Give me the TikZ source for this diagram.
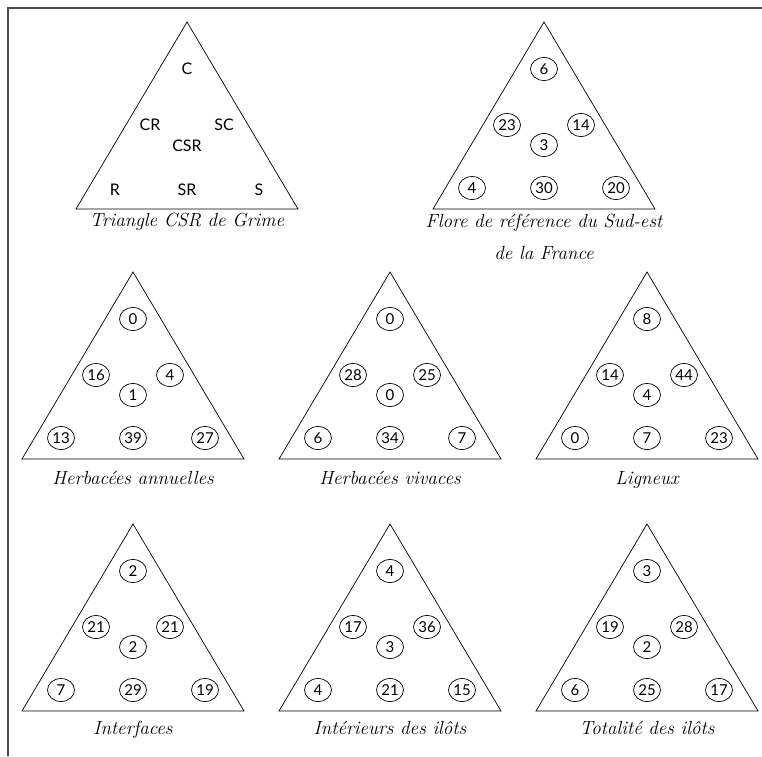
\documentclass[tikz,border=0pt]{standalone}
\usepackage{fontspec}
\newfontfamily\gillfont{Lato}
\usetikzlibrary{shapes.geometric}

\tikzset{
  frame/.style={draw=black!70, line width=1.5pt},
  tri/.style={draw, line width=0.7pt, line join=miter},
  val/.style={ellipse, draw, line width=0.7pt, minimum width=27pt, minimum height=23pt, inner sep=0pt, font=\gillfont\fontsize{15}{15}\selectfont},
  lbl/.style={inner sep=0pt, font=\gillfont\fontsize{16}{16}\selectfont},
  caption/.style={anchor=base, inner sep=0pt, align=center, font=\itshape\fontsize{19}{32}\selectfont}
}

\begin{document}
\begin{tikzpicture}[x=1pt, y=-1pt]
  \useasboundingbox (0,0) rectangle (762,756);

  % Frame, open on the right and at the bottom
  \coordinate (frameTR) at (762,8);
  \coordinate (frameTL) at (8,8);
  \coordinate (frameBL) at (8,756);
  \draw[frame] (frameTR) -- (frameTL) -- (frameBL);

  % Grime's triangle with the strategy labels
  \coordinate (t1-apex) at (187,22);
  \coordinate (t1-left) at (76,209);
  \coordinate (t1-right) at (298,209);
  \draw[tri] (t1-apex) -- (t1-left) -- (t1-right) -- cycle;
  \foreach \lab [count=\k from 0] in {C,CR,SC,CSR,R,SR,S} {
    \pgfmathsetmacro\dx{{0,-37,37,0,-72,0,72}[\k]}
    \pgfmathsetmacro\dy{{47,103,103,124,168,168,168}[\k]}
    \node[lbl] (t1-\k) at (187+\dx, 22+\dy) {\lab};
  }
  \node[caption] (t1-cap) at (187,226) {Triangle CSR de Grime};

  % Percentages per strategy (base anchor = last line)
  \foreach \id/\cx/\ay/\vals/\capy/\capt in {
      2/544/22/{6,23,14,3,4,30,20}/259/{Flore de référence du Sud-est\\de la France},
      3/133/272/{0,16,4,1,13,39,27}/484/{Herbacées annuelles},
      4/390/272/{0,28,25,0,6,34,7}/484/{Herbacées vivaces},
      5/647/272/{8,14,44,4,0,7,23}/484/{Ligneux},
      6/133/524/{2,21,21,2,7,29,19}/734/{Interfaces},
      7/390/524/{4,17,36,3,4,21,15}/734/{Intérieurs des ilôts},
      8/647/524/{3,19,28,2,6,25,17}/734/{Totalité des ilôts}} {
    \coordinate (t\id-apex) at (\cx,\ay);
    \coordinate (t\id-left) at (\cx-111,\ay+187);
    \coordinate (t\id-right) at (\cx+111,\ay+187);
    \draw[tri] (t\id-apex) -- (t\id-left) -- (t\id-right) -- cycle;
    \foreach \v [count=\k from 0] in \vals {
      \pgfmathsetmacro\dx{{0,-37,37,0,-72,0,72}[\k]}
      \pgfmathsetmacro\dy{{47,103,103,123,166,166,166}[\k]}
      \node[val] (t\id-\k) at (\cx+\dx, \ay+\dy) {\v};
    }
    \node[caption] (t\id-cap) at (\cx,\capy) {\capt};
  }
\end{tikzpicture}
\end{document}
